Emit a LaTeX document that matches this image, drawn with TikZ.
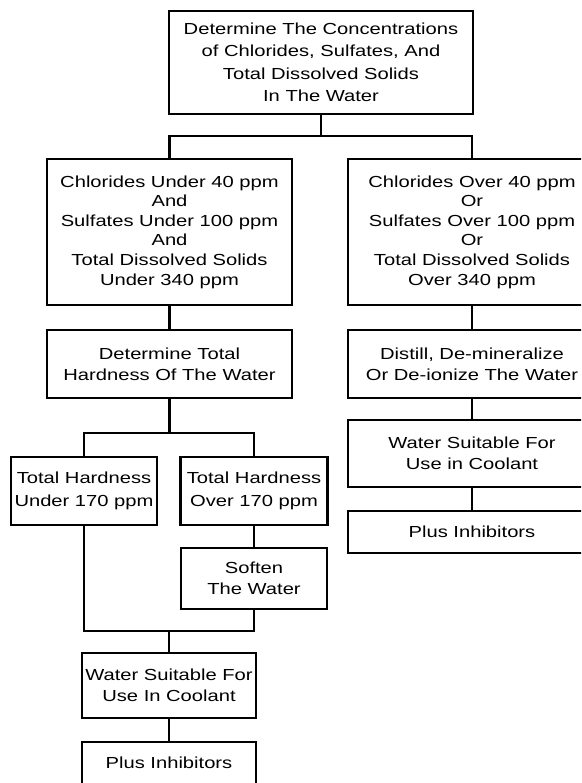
\documentclass[tikz,border=0pt]{standalone}
\usepackage{fontspec}
\setmainfont{Liberation Sans}[FakeStretch=1.26]
\usetikzlibrary{calc}
\tikzset{
  blk/.style={draw,line width=2.2pt,align=center,inner sep=0pt,
    font=\fontsize{16}{21}\selectfont},
  lnk/.style={line width=2.2pt}
}

\begin{document}
\begin{tikzpicture}[x=1pt,y=-1pt]
\path[use as bounding box,clip] (0,0) rectangle (581,783);
\node[blk,minimum width=304,minimum height=103,
  font=\fontsize{16}{22.5}\selectfont] (conc) at (321,62.5)
  {Determine The Concentrations\\of Chlorides, Sulfates, And\\
   Total Dissolved Solids\\In The Water};
\node[blk,minimum width=245,minimum height=146,
  font=\fontsize{16}{19.6}\selectfont] (chlU) at (169.5,232)
  {Chlorides Under 40 ppm\\And\\Sulfates Under 100 ppm\\And\\
   Total Dissolved Solids\\Under 340 ppm};
\node[blk,minimum width=248,minimum height=146,
  font=\fontsize{16}{19.6}\selectfont] (chlO) at (472,232)
  {Chlorides Over 40 ppm\\Or\\Sulfates Over 100 ppm\\Or\\
   Total Dissolved Solids\\Over 340 ppm};
\node[blk,minimum width=245,minimum height=68] (hard) at (169.5,364)
  {Determine Total\\Hardness Of The Water};
\node[blk,minimum width=248,minimum height=68] (distil) at (472,364)
  {Distill, De-mineralize\\Or De-ionize The Water};
\node[blk,minimum width=248,minimum height=67] (suitR) at (472,453.5)
  {Water Suitable For\\Use in Coolant};
\node[blk,minimum width=248,minimum height=42] (inhR) at (472,532)
  {Plus Inhibitors};
\node[blk,minimum width=146,minimum height=68,
  font=\fontsize{16}{23}\selectfont] (hardU) at (84,491)
  {Total Hardness\\Under 170 ppm};
\node[blk,minimum width=147,minimum height=68,
  font=\fontsize{16}{23}\selectfont] (hardO) at (254,491)
  {Total Hardness\\Over 170 ppm};
\node[blk,minimum width=146,minimum height=61] (soften) at (254,578.5)
  {Soften\\The Water};
\node[blk,minimum width=174,minimum height=65] (suitL) at (169,685.5)
  {Water Suitable For\\Use In Coolant};
\node[blk,minimum width=174,minimum height=42] (inhL) at (169,763)
  {Plus Inhibitors};

\draw[lnk] (conc.south) -- ++(0,21) coordinate (fork);
\draw[lnk] (chlU.north) |- (fork) -| (chlO.north);
\draw[lnk] (chlU) -- (hard);
\draw[lnk] (chlO) -- (distil);
\draw[lnk] (distil) -- (suitR);
\draw[lnk] (suitR) -- (inhR);
\draw[lnk] (hard.south) -- ++(0,34) coordinate (fork2);
\draw[lnk] (hardU.north) |- (fork2) -| (hardO.north);
\draw[lnk] (hardO) -- (soften);
\draw[lnk] (suitL.north) -- ++(0,-21) coordinate (join);
\draw[lnk] (hardU.south) |- (join) -| (soften.south);
\draw[lnk] (suitL) -- (inhL);
\end{tikzpicture}
\end{document}
